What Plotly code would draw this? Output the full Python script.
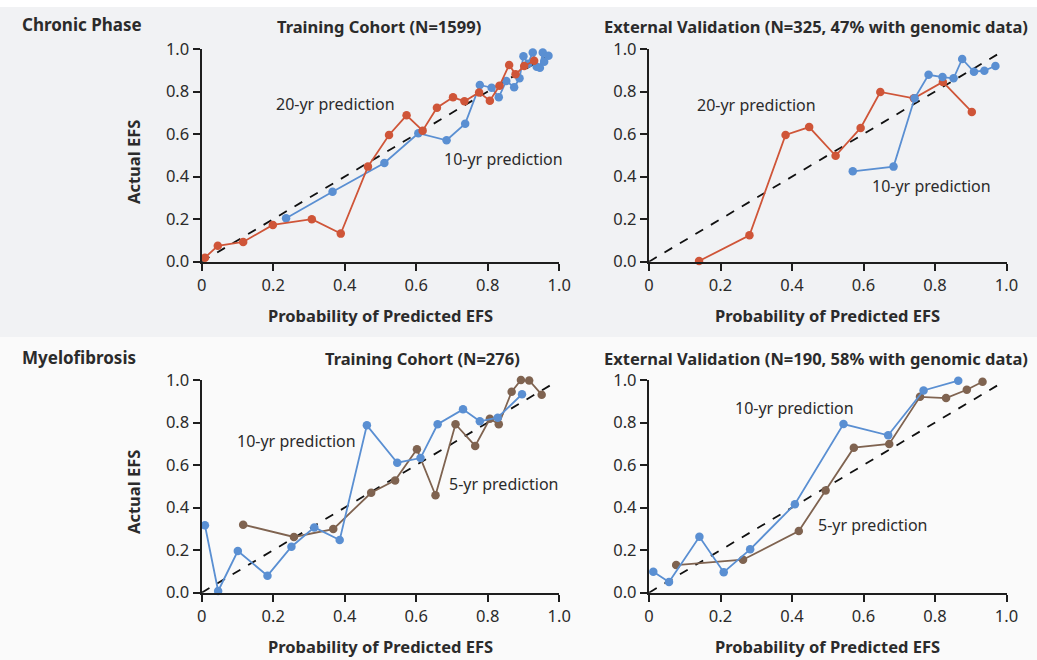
import plotly.graph_objects as go

W, H = 1037, 660

# ---------------- data ----------------
# Chronic phase, training cohort
cp_tr_20_x = [0.009, 0.045, 0.116, 0.199, 0.308, 0.389, 0.465, 0.524, 0.573, 0.618, 0.658, 0.703, 0.735, 0.776, 0.806, 0.833, 0.860, 0.878, 0.902, 0.930]
cp_tr_20_y = [0.019, 0.075, 0.093, 0.173, 0.200, 0.132, 0.447, 0.596, 0.688, 0.616, 0.724, 0.773, 0.754, 0.796, 0.757, 0.827, 0.925, 0.881, 0.920, 0.945]
cp_tr_10_x = [0.236, 0.366, 0.511, 0.606, 0.685, 0.737, 0.778, 0.811, 0.831, 0.852, 0.874, 0.889, 0.900, 0.913, 0.926, 0.937, 0.946, 0.954, 0.958, 0.970]
cp_tr_10_y = [0.204, 0.329, 0.464, 0.604, 0.571, 0.649, 0.831, 0.818, 0.773, 0.850, 0.820, 0.862, 0.966, 0.931, 0.984, 0.917, 0.912, 0.984, 0.940, 0.968]

# Chronic phase, external validation
cp_ev_20_x = [0.140, 0.281, 0.382, 0.448, 0.522, 0.592, 0.647, 0.741, 0.822, 0.903]
cp_ev_20_y = [0.003, 0.124, 0.596, 0.633, 0.498, 0.629, 0.798, 0.768, 0.845, 0.704]
cp_ev_10_x = [0.570, 0.684, 0.743, 0.782, 0.821, 0.852, 0.876, 0.909, 0.938, 0.969]
cp_ev_10_y = [0.425, 0.447, 0.768, 0.879, 0.868, 0.862, 0.953, 0.893, 0.898, 0.920]

# Myelofibrosis, training cohort
mf_tr_10_x = [0.009, 0.046, 0.101, 0.184, 0.251, 0.315, 0.386, 0.462, 0.547, 0.612, 0.660, 0.731, 0.778, 0.828, 0.896]
mf_tr_10_y = [0.317, 0.008, 0.196, 0.080, 0.216, 0.307, 0.248, 0.787, 0.611, 0.633, 0.792, 0.862, 0.806, 0.823, 0.933]
mf_tr_5_x = [0.116, 0.258, 0.368, 0.474, 0.541, 0.602, 0.654, 0.710, 0.765, 0.806, 0.831, 0.867, 0.893, 0.916, 0.951]
mf_tr_5_y = [0.320, 0.262, 0.299, 0.470, 0.528, 0.674, 0.458, 0.792, 0.690, 0.818, 0.792, 0.945, 1.000, 0.998, 0.931]

# Myelofibrosis, external validation
mf_ev_10_x = [0.012, 0.056, 0.141, 0.209, 0.283, 0.408, 0.544, 0.669, 0.768, 0.865]
mf_ev_10_y = [0.099, 0.050, 0.263, 0.096, 0.204, 0.416, 0.793, 0.740, 0.951, 0.997]
mf_ev_5_x = [0.076, 0.263, 0.419, 0.494, 0.573, 0.672, 0.758, 0.831, 0.889, 0.933]
mf_ev_5_y = [0.130, 0.155, 0.290, 0.480, 0.682, 0.699, 0.921, 0.915, 0.954, 0.992]

diag_x = [0.0, 0.98]
diag_y = [0.0, 0.98]

x_ticks = [0, 0.2, 0.4, 0.6, 0.8, 1.0]
x_tick_text = ["0", "0.2", "0.4", "0.6", "0.8", "1.0"]
y_ticks = [0, 0.2, 0.4, 0.6, 0.8, 1.0]
y_tick_text = ["0.0", "0.2", "0.4", "0.6", "0.8", "1.0"]

titles = ["Training Cohort (N=1599)",
          "External Validation (N=325, 47% with genomic data)",
          "Training Cohort (N=276)",
          "External Validation (N=190, 58% with genomic data)"]

RED = "#cf5538"
BLUE = "#5a8fd2"
BROWN = "#7f6350"
TXT = "#2b2b2b"
FONT = "Noto Sans"

def px(x):
    return x / W

def py(y):
    return 1 - y / H

# axis pixel boxes: (left, right, top, bottom)
boxes = [(201.7, 559.2, 49.0, 261.7),
         (649.0, 1006.5, 49.0, 261.7),
         (201.7, 559.2, 380.0, 592.7),
         (649.0, 1006.5, 380.0, 592.7)]

fig = go.Figure()

# background bands
fig.add_shape(type="rect", xref="paper", yref="paper", x0=0, x1=1, y0=py(337), y1=py(7),
              fillcolor="#f1f2f4", line_width=0, layer="below")
fig.add_shape(type="rect", xref="paper", yref="paper", x0=0, x1=1, y0=0, y1=py(337),
              fillcolor="#fafafa", line_width=0, layer="below")

series = [
    [(cp_tr_10_x, cp_tr_10_y, BLUE), (cp_tr_20_x, cp_tr_20_y, RED)],
    [(cp_ev_20_x, cp_ev_20_y, RED), (cp_ev_10_x, cp_ev_10_y, BLUE)],
    [(mf_tr_5_x, mf_tr_5_y, BROWN), (mf_tr_10_x, mf_tr_10_y, BLUE)],
    [(mf_ev_5_x, mf_ev_5_y, BROWN), (mf_ev_10_x, mf_ev_10_y, BLUE)],
]

for i, (box, sers) in enumerate(zip(boxes, series)):
    n = i + 1
    xa = "x" if n == 1 else f"x{n}"
    ya = "y" if n == 1 else f"y{n}"
    l, r, t, b = box
    axcommon = dict(showline=True, linecolor="#1e1e1e", linewidth=2.4, ticks="outside",
                    ticklen=7, tickwidth=2.2, tickcolor="#1e1e1e", showgrid=False, zeroline=False,
                    automargin=False,
                    tickfont=dict(family=FONT, size=16.5, color=TXT), range=[0, 1], fixedrange=True)
    fig.layout[f"xaxis{'' if n == 1 else n}"] = dict(domain=[px(l), px(r)], anchor=ya,
                                                     tickvals=x_ticks, ticktext=x_tick_text, **axcommon)
    fig.layout[f"yaxis{'' if n == 1 else n}"] = dict(domain=[py(b), py(t)], anchor=xa,
                                                     tickvals=y_ticks, ticktext=y_tick_text, **axcommon)
    fig.add_trace(go.Scatter(x=diag_x, y=diag_y, mode="lines", xaxis=xa, yaxis=ya,
                             line=dict(color="#111111", width=1.8, dash="dash"),
                             showlegend=False, hoverinfo="skip"))
    for sx, sy, c in sers:
        fig.add_trace(go.Scatter(x=sx, y=sy, mode="lines+markers", xaxis=xa, yaxis=ya,
                                 line=dict(color=c, width=1.8), marker=dict(color=c, size=8.5),
                                 cliponaxis=False, showlegend=False))

annotations = []

def txt(x, y, s, size=16, bold=False, xanchor="left", angle=0):
    annotations.append(dict(xref="paper", yref="paper", x=px(x), y=py(y), text=f"<b>{s}</b>" if bold else s,
                            showarrow=False, xanchor=xanchor, yanchor="middle", textangle=angle,
                            font=dict(family=FONT, size=size, color=TXT)))

# section labels
txt(20, 25, "Chronic Phase", size=17, bold=True)
txt(20, 357, "Myelofibrosis", size=17, bold=True)

# panel titles
txt(379, 26.5, titles[0], size=16.5, bold=True, xanchor="center")
txt(816, 26.5, titles[1], size=16.5, bold=True, xanchor="center")
txt(422, 358.5, titles[2], size=16.5, bold=True, xanchor="center")
txt(816, 358.5, titles[3], size=16.5, bold=True, xanchor="center")

# axis titles
for (l, r, t, b) in boxes:
    txt((l + r) / 2, b + 54, "Probability of Predicted EFS", size=16.5, bold=True, xanchor="center")
txt(133, 162, "Actual EFS", size=16.5, bold=True, xanchor="center", angle=-90)
txt(133, 492, "Actual EFS", size=16.5, bold=True, xanchor="center", angle=-90)

# series labels
txt(274, 104, "20-yr prediction")
txt(442, 159, "10-yr prediction")
txt(695, 105, "20-yr prediction")
txt(870, 186, "10-yr prediction")
txt(235, 441, "10-yr prediction")
txt(447, 484, "5-yr prediction")
txt(733, 408, "10-yr prediction")
txt(816, 525, "5-yr prediction")

fig.update_layout(width=W, height=H, margin=dict(l=0, r=0, t=0, b=0, autoexpand=False),
                  paper_bgcolor="white", plot_bgcolor="rgba(0,0,0,0)",
                  annotations=annotations, showlegend=False)

fig.write_html("out.html", config={"displayModeBar": False},
               post_script="document.body.style.margin='0';document.body.style.overflow='hidden';")
